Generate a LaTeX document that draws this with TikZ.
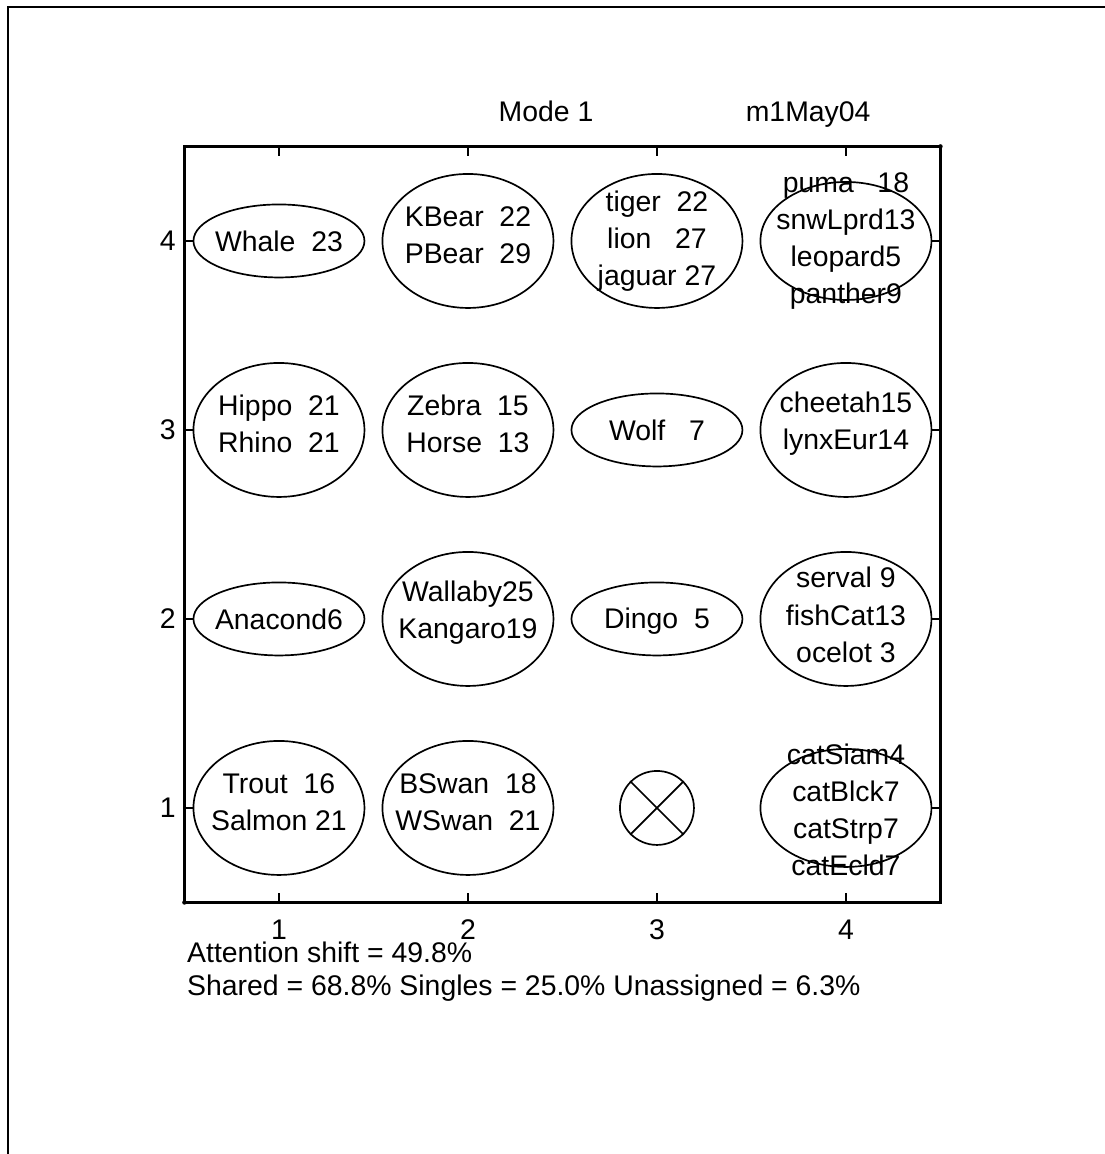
\documentclass[tikz,border=0pt]{standalone}
\usepackage{fontspec}
\setmainfont{Liberation Sans}
\usetikzlibrary{shapes.geometric}
\begin{document}
\begin{tikzpicture}[x=4.725cm, y=4.725cm,
    celda/.style={ellipse, draw=black, line width=1.2pt, minimum width=4.275cm, inner sep=0pt},
    uno/.style={celda, minimum height=1.825cm},
    dos/.style={celda, minimum height=3.35cm},
    cuatro/.style={celda, minimum height=2.95cm},
    texto/.style={align=center, inner sep=0pt, font=\fontsize{20.2}{26.5}\selectfont},
    textodos/.style={texto, yshift=0.15cm},
    eje/.style={line width=1.6pt, black}]
        \useasboundingbox (-0.476,-0.831) rectangle (5.370,5.275);
        % marco exterior
        \draw[line width=1.5pt] (-0.434,-0.831) -- (-0.434,5.238) -- (5.370,5.238);
        % ejes y marcas
        \draw[eje] (0.5,0.5) rectangle (4.5,4.5);
        \draw[eje] (1,0.5) -- (1,0.548) (2,0.5) -- (2,0.548) (3,0.5) -- (3,0.548) (4,0.5) -- (4,0.548);
        \draw[eje] (1,4.5) -- (1,4.452) (2,4.5) -- (2,4.452) (3,4.5) -- (3,4.452) (4,4.5) -- (4,4.452);
        \draw[eje] (0.5,1) -- (0.548,1) (0.5,2) -- (0.548,2) (0.5,3) -- (0.548,3) (0.5,4) -- (0.548,4);
        \draw[eje] (4.5,1) -- (4.452,1) (4.5,2) -- (4.452,2) (4.5,3) -- (4.452,3) (4.5,4) -- (4.452,4);
        \fill (0.5,0.5) circle (0.012);
        \fill (4.5,4.5) circle (0.012);
        \node[texto, anchor=base] (x1) at (1,0.305) {1};
        \node[texto, anchor=base] (x2) at (2,0.305) {2};
        \node[texto, anchor=base] (x3) at (3,0.305) {3};
        \node[texto, anchor=base] (x4) at (4,0.305) {4};
        \node[texto, anchor=east] (y1) at (0.455,1) {1};
        \node[texto, anchor=east] (y2) at (0.455,2) {2};
        \node[texto, anchor=east] (y3) at (0.455,3) {3};
        \node[texto, anchor=east] (y4) at (0.455,4) {4};
        % titulos
        \node[texto, anchor=base] (modo) at (2.413,4.63) {Mode 1};
        \node[texto, anchor=base] (fecha) at (3.80,4.63) {m1May04};
        % fila 4
        \node[uno] (whale) at (1,4) {};
        \node[texto] (whale-t) at (whale) {Whale~~23};
        \node[dos] (bear) at (2,4) {};
        \node[textodos] (bear-t) at (bear) {KBear~~22\\PBear~~29};
        \node[dos] (tiger) at (3,4) {};
        \node[texto] (tiger-t) at (tiger) {tiger~~22\\lion~~~27\\jaguar~27};
        \node[cuatro] (puma) at (4,4) {};
        \node[texto] (puma-t) at (puma) {puma~~~18\\snwLprd13\\leopard5\\panther9};
        % fila 3
        \node[dos] (hippo) at (1,3) {};
        \node[textodos] (hippo-t) at (hippo) {Hippo~~21\\Rhino~~21};
        \node[dos] (zebra) at (2,3) {};
        \node[textodos] (zebra-t) at (zebra) {Zebra~~15\\Horse~~13};
        \node[uno] (wolf) at (3,3) {};
        \node[texto] (wolf-t) at (wolf) {Wolf~~~7};
        \node[dos] (cheetah) at (4,3) {};
        \node[textodos] (cheetah-t) at (cheetah) {cheetah15\\lynxEur14};
        % fila 2
        \node[uno] (anaconda) at (1,2) {};
        \node[texto] (anaconda-t) at (anaconda) {Anacond6};
        \node[dos] (wallaby) at (2,2) {};
        \node[textodos] (wallaby-t) at (wallaby) {Wallaby25\\Kangaro19};
        \node[uno] (dingo) at (3,2) {};
        \node[texto, yshift=-0.06cm] (dingo-t) at (dingo) {Dingo~~5};
        \node[dos] (serval) at (4,2) {};
        \node[texto, yshift=0.1cm] (serval-t) at (serval) {serval~9\\fishCat13\\ocelot~3};
        % fila 1
        \node[dos] (trout) at (1,1) {};
        \node[textodos] (trout-t) at (trout) {Trout~~16\\Salmon~21};
        \node[dos] (swan) at (2,1) {};
        \node[textodos] (swan-t) at (swan) {BSwan~~18\\WSwan~~21};
        \node[circle, draw=black, line width=1.2pt, minimum size=1.85cm, inner sep=0pt] (vacio) at (3,1) {};
        \draw[line width=1.2pt] (vacio.north west) -- (vacio.south east);
        \draw[line width=1.2pt] (vacio.north east) -- (vacio.south west);
        \node[cuatro] (cat) at (4,1) {};
        \node[texto, yshift=-0.05cm] (cat-t) at (cat) {catSiam4\\catBlck7\\catStrp7\\catEcld7};
        % resumen
        \node[texto, anchor=base west] (shift) at (0.513,0.18) {Attention shift = 49.8\%};
        \node[texto, anchor=base west] (shared) at (0.513,0.008) {Shared = 68.8\% Singles = 25.0\% Unassigned = 6.3\%};
    \end{tikzpicture}
\end{document}
